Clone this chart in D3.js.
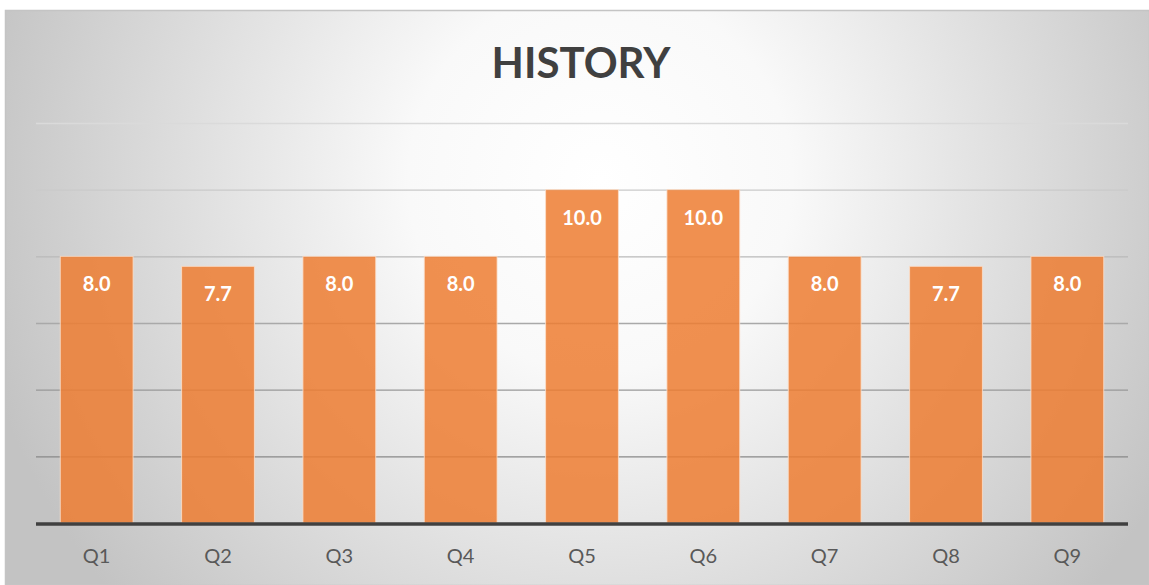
<!DOCTYPE html>
<html>
<head>
<meta charset="utf-8">
<script src="https://cdn.jsdelivr.net/npm/d3@7"></script>
<style>
  html, body { margin: 0; padding: 0; background: #ffffff; }
  svg { display: block; }
  text { font-family: Lato, "Open Sans", sans-serif; }
</style>
</head>
<body>
<script>
  var categories = ['Q1', 'Q2', 'Q3', 'Q4', 'Q5', 'Q6', 'Q7', 'Q8', 'Q9'];
  var scores = [8.0, 7.7, 8.0, 8.0, 10.0, 10.0, 8.0, 7.7, 8.0];
  var gridTicks = [0, 2, 4, 6, 8, 10, 12];
  var title = 'HISTORY';

  var width = 1149, height = 585;
  var plot = {left: 36, right: 1128, top: 123, bottom: 523};

  var svg = d3.select('body').append('svg')
    .attr('width', width)
    .attr('height', height);

  var defs = svg.append('defs');

  // Background: white glow near the top middle, grey toward edges
  var bg = defs.append('radialGradient')
    .attr('id', 'bg')
    .attr('gradientUnits', 'userSpaceOnUse')
    .attr('cx', 600).attr('cy', 180).attr('r', 640);
  bg.append('stop').attr('offset', '0').attr('stop-color', '#ffffff');
  bg.append('stop').attr('offset', '0.3').attr('stop-color', '#f9f9f9');
  bg.append('stop').attr('offset', '1').attr('stop-color', '#c3c3c3');

  svg.append('rect')
    .attr('x', 5.5).attr('y', 10.5)
    .attr('width', width - 5).attr('height', height - 10)
    .attr('fill', 'url(#bg)')
    .attr('stroke', '#c4c4c4')
    .attr('stroke-width', 1.5);

  var x = d3.scaleBand()
    .domain(categories)
    .range([plot.left, plot.right])
    .padding(0);

  var y = d3.scaleLinear()
    .domain([0, 12])
    .range([plot.bottom, plot.top]);

  var barWidth = x.bandwidth() * 0.6;

  // Gridlines, light at the top and darker toward the baseline
  svg.append('g').attr('class', 'grid')
    .selectAll('line')
    .data(gridTicks.filter(function(d) { return d > 0; }))
    .join('line')
      .attr('x1', plot.left).attr('x2', plot.right)
      .attr('y1', function(d) { return y(d) + 0.5; })
      .attr('y2', function(d) { return y(d) + 0.5; })
      .attr('stroke', function(d) {
        return d3.interpolateRgb('#777777', '#dadada')(d / 12);
      })
      .attr('stroke-width', 1.3);

  // Bars
  svg.append('g').attr('class', 'bars')
    .selectAll('rect')
    .data(scores)
    .join('rect')
      .attr('x', function(d, i) { return x(categories[i]) + (x.bandwidth() - barWidth) / 2; })
      .attr('y', function(d) { return y(d); })
      .attr('width', barWidth)
      .attr('height', function(d) { return y(0) - y(d); })
      .attr('fill', '#ed7d31')
      .attr('fill-opacity', 0.85)
      .attr('stroke', '#fbe0cc')
      .attr('stroke-opacity', 0.8)
      .attr('stroke-width', 1);

  // Value labels inside bars
  svg.append('g').attr('class', 'labels')
    .selectAll('text')
    .data(scores)
    .join('text')
      .attr('x', function(d, i) { return x(categories[i]) + x.bandwidth() / 2; })
      .attr('y', function(d) { return y(d) + 35; })
      .attr('text-anchor', 'middle')
      .attr('fill', '#ffffff')
      .attr('font-weight', 'bold')
      .attr('font-size', 20)
      .text(function(d) { return d.toFixed(1); });

  // Baseline
  svg.append('line')
    .attr('x1', plot.left).attr('x2', plot.right)
    .attr('y1', plot.bottom + 1).attr('y2', plot.bottom + 1)
    .attr('stroke', '#404040')
    .attr('stroke-width', 3.5);

  // Category axis
  var xAxis = svg.append('g')
    .attr('transform', 'translate(0,' + (plot.bottom + 2) + ')')
    .call(d3.axisBottom(x).tickSize(0).tickPadding(24));
  xAxis.select('.domain').remove();
  xAxis.selectAll('text')
    .attr('font-family', 'Lato, "Open Sans", sans-serif')
    .attr('font-size', 20)
    .attr('fill', '#595959');

  // Title
  svg.append('text')
    .attr('x', 581)
    .attr('y', 78)
    .attr('text-anchor', 'middle')
    .attr('fill', '#404040')
    .attr('font-weight', 'bold')
    .attr('font-size', 42)
    .text(title);
</script>
</body>
</html>
